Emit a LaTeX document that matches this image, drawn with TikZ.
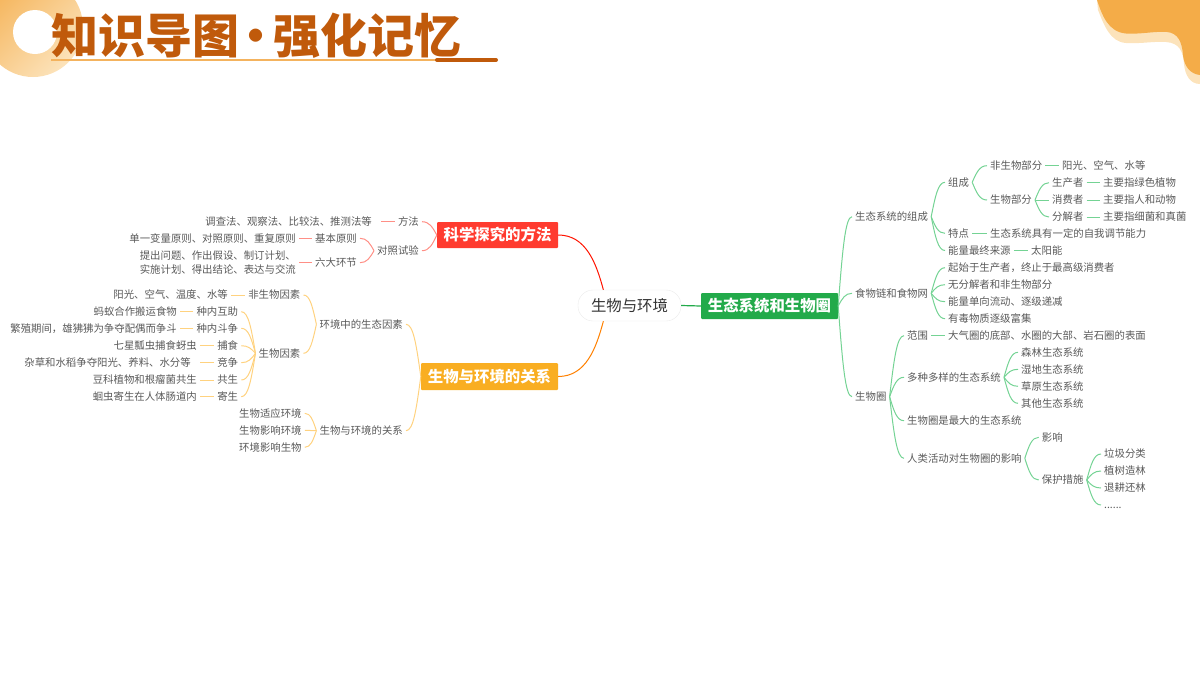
\documentclass[tikz,border=0pt]{standalone}
\usepackage{fontspec}
\setmainfont{Noto Sans CJK SC}
\usetikzlibrary{positioning,calc}

\definecolor{bodytxt}{HTML}{595959}
\definecolor{titlebrown}{HTML}{C05A0B}
\definecolor{titlepale}{HTML}{F4B35E}
\definecolor{blobdark}{HTML}{F4AC48}
\definecolor{blobpale}{HTML}{FCE3BB}
\definecolor{redbox}{HTML}{FF3B2F}
\definecolor{orangebox}{HTML}{F9AE22}
\definecolor{greenbox}{HTML}{22AA4A}
\definecolor{redline}{HTML}{FF8F86}
\definecolor{orangeline}{HTML}{FFD27F}
\definecolor{greenline}{HTML}{74D394}

\tikzset{
  txt/.style={font=\fontsize{10.4}{12}\selectfont, text=bodytxt, inner sep=3pt, text height=9pt, text depth=1.5pt},
  txtl/.style={txt, anchor=west},
  txtr/.style={txt, anchor=east},
  mainbox/.style={font=\fontsize{15.4}{18}\selectfont\bfseries, text=white, inner sep=0pt, minimum height=26pt, rounded corners=1pt},
  redlink/.style={draw=redline, line width=1pt},
  orangelink/.style={draw=orangeline, line width=1pt},
  greenlink/.style={draw=greenline, line width=1pt},
  fan/.style={to path={let \p1=(\tikztostart), \p2=(\tikztotarget) in
    .. controls ({\x1+.3*(\x2-\x1)},{\y1+.6*(\y2-\y1)}) and ({\x1+.5*(\x2-\x1)},\y2) .. (\tikztotarget)}},
}

\begin{document}
\begin{tikzpicture}[x=1pt, y=1pt]
  \clip (0,0) rectangle (1200,-675);

  % corners
  \shade[top color=blobdark!90!white, bottom color=blobpale, shading angle=45] (33,-27) circle (50);
  \fill[white] (35,-32) circle (22);
  \fill[blobpale] (1097,0) -- (1098,-10) .. controls (1104,-25) and (1110,-42) .. (1126,-43) .. controls (1140,-44) and (1155,-41) .. (1166,-42) .. controls (1180,-43) and (1183,-52) .. (1184,-64) .. controls (1185,-75) and (1190,-84) .. (1200,-84) -- (1200,0) -- cycle;
  \fill[blobdark] (1097,0) .. controls (1102,-15) and (1108,-32) .. (1126,-33.5) .. controls (1140,-34.5) and (1155,-31) .. (1167,-32) .. controls (1178,-33) and (1182,-42) .. (1183,-55) .. controls (1184,-66) and (1190,-74) .. (1200,-75) -- (1200,0) -- cycle;

  % title
  \node[font=\fontsize{47}{50}\selectfont\bfseries, text=titlebrown, anchor=west, inner sep=0pt] (title) at (51,-35.5) {知识导图\kern-6.5pt·\kern-6.5pt强化记忆};
  \coordinate (ulstart) at (51,-60);
  \coordinate (ulmid) at (437,-60);
  \coordinate (ulend) at (496,-60);
  \draw[titlepale, line width=2pt] (ulstart) -- (ulmid);
  \draw[titlebrown, line width=4pt, line cap=round] (ulmid) -- (ulend);

  % main topics
  \node[mainbox, fill=redbox, minimum width=121pt] (method) at (497.5,-235) {科学探究的方法};
  \node[mainbox, fill=orangebox, minimum width=137pt, minimum height=27pt] (relation) at (489.5,-376.5) {生物与环境的关系};
  \node[mainbox, fill=greenbox, minimum width=137pt] (eco) at (769.5,-306) {生态系统和生物圈};
  \node[rectangle, rounded corners=15pt, draw=black!8, fill=white, minimum width=103pt, minimum height=31pt, inner sep=0pt, font=\fontsize{15.4}{18}\selectfont, text=black!80] (root) at (629.5,-305.5) {生物与环境};

  \draw[red!85!orange, line width=1pt] (method.east) to[out=0, in=105] (root.149);
  \draw[orange, line width=1pt] (relation.east) to[out=0, in=-105] (root.211);
  \draw[greenbox, line width=1.2pt] (root.east) -- (eco.west);

  % method branch
  \node[txtr] (fangfa) at (422,-221.7) {方法};
  \node[txtr, inner xsep=9pt] (fangfav) at (381,-221.7) {调查法、观察法、比较法、推测法等};
  \node[txtr] (duizhao) at (422,-250.7) {对照试验};
  \node[txtr] (jiben) at (360,-238.3) {基本原则};
  \node[txtr] (jibenv) at (299,-238.3) {单一变量原则、对照原则、重复原则};
  \node[txtr] (liuda) at (360,-262.7) {六大环节};
  \node[font=\fontsize{10.4}{13.6}\selectfont, text=bodytxt, inner sep=3pt, anchor=east, align=left] (liudav) at (299,-262.3) {提出问题、作出假设、制订计划、\\实施计划、得出结论、表达与交流};

  \foreach \a/\b in {method/fangfa, method/duizhao, duizhao/jiben, duizhao/liuda}
    \draw[redlink] (\a.west) to[fan] (\b.east);
  \foreach \a/\b in {fangfa/fangfav, jiben/jibenv, liuda/liudav}
    \draw[redlink] (\a.west) -- (\a.west -| \b.east);

  % relation branch
  \node[txtr] (factor) at (406,-324.3) {环境中的生态因素};
  \node[txtr] (rel) at (406,-430.7) {生物与环境的关系};
  \node[txtr] (abio) at (303.5,-295) {非生物因素};
  \node[txtr] (abiov) at (231,-295) {阳光、空气、温度、水等};
  \node[txtr] (biof) at (303.5,-353.3) {生物因素};
  \node[txtr] (help) at (241.3,-311.7) {种内互助};
  \node[txtr] (helpv) at (180,-311.7) {蚂蚁合作搬运食物};
  \node[txtr] (fight) at (241.3,-328.3) {种内斗争};
  \node[txtr] (fightv) at (180,-328.3) {繁殖期间，雄狒狒为争夺配偶而争斗};
  \node[txtr] (prey) at (241.3,-345.7) {捕食};
  \node[txtr] (preyv) at (200,-345.7) {七星瓢虫捕食蚜虫};
  \node[txtr] (comp) at (241.3,-362.7) {竞争};
  \node[txtr, inner xsep=9pt] (compv) at (200,-362.7) {杂草和水稻争夺阳光、养料、水分等};
  \node[txtr] (mutual) at (241.3,-380) {共生};
  \node[txtr] (mutualv) at (200,-380) {豆科植物和根瘤菌共生};
  \node[txtr] (para) at (241.3,-396.7) {寄生};
  \node[txtr] (parav) at (200,-396.7) {蛔虫寄生在人体肠道内};
  \node[txtl] (adapt) at (236,-413.3) {生物适应环境};
  \node[txtl] (affect) at (236,-430.3) {生物影响环境};
  \node[txtl] (envaff) at (236,-447.3) {环境影响生物};

  \foreach \a/\b in {relation/factor, relation/rel, factor/abio, factor/biof, biof/help, biof/fight, biof/prey, biof/comp, biof/mutual, biof/para, rel/adapt, rel/envaff}
    \draw[orangelink] (\a.west) to[fan] (\b.east);
  \foreach \a/\b in {rel/affect, abio/abiov, help/helpv, fight/fightv, prey/preyv, comp/compv, mutual/mutualv, para/parav}
    \draw[orangelink] (\a.west) -- (\b.east);

  % ecosystem branch
  \node[txtl] (parts) at (852,-216.7) {生态系统的组成};
  \node[txtl] (zucheng) at (945,-182.3) {组成};
  \node[txtl] (nonbio) at (987,-165.7) {非生物部分};
  \node[txtl] (nonbiov) at (1059,-165.7) {阳光、空气、水等};
  \node[txtl] (biopart) at (987,-200) {生物部分};
  \node[txtl] (prod) at (1049,-182.7) {生产者};
  \node[txtl] (prodv) at (1100,-182.7) {主要指绿色植物};
  \node[txtl] (cons) at (1049,-200) {消费者};
  \node[txtl] (consv) at (1100,-200) {主要指人和动物};
  \node[txtl] (decomp) at (1049,-217) {分解者};
  \node[txtl] (decompv) at (1100,-217) {主要指细菌和真菌};
  \node[txtl] (trait) at (945,-233.3) {特点};
  \node[txtl] (traitv) at (987,-233.3) {生态系统具有一定的自我调节能力};
  \node[txtl] (energy) at (945,-250.5) {能量最终来源};
  \node[txtl] (energyv) at (1028,-250.5) {太阳能};
  \node[txtl] (chain) at (852,-293.3) {食物链和食物网};
  \node[txtl] (chaina) at (945,-267.7) {起始于生产者，终止于最高级消费者};
  \node[txtl] (chainb) at (945,-284.7) {无分解者和非生物部分};
  \node[txtl] (chainc) at (945,-301.7) {能量单向流动、逐级递减};
  \node[txtl] (chaind) at (945,-318.7) {有毒物质逐级富集};
  \node[txtl] (sphere) at (852,-396.7) {生物圈};
  \node[txtl] (range) at (904,-335.7) {范围};
  \node[txtl] (rangev) at (945,-335.7) {大气圈的底部、水圈的大部、岩石圈的表面};
  \node[txtl] (diverse) at (904,-377.3) {多种多样的生态系统};
  \node[txtl] (forest) at (1018,-352.3) {森林生态系统};
  \node[txtl] (wetland) at (1018,-369.3) {湿地生态系统};
  \node[txtl] (grass) at (1018,-386.3) {草原生态系统};
  \node[txtl] (other) at (1018,-403.3) {其他生态系统};
  \node[txtl] (largest) at (904,-420.7) {生物圈是最大的生态系统};
  \node[txtl] (human) at (904,-458.3) {人类活动对生物圈的影响};
  \node[txtl] (impact) at (1038.7,-437.3) {影响};
  \node[txtl] (protect) at (1038.7,-480) {保护措施};
  \node[txtl] (sort) at (1101,-454) {垃圾分类};
  \node[txtl] (plant) at (1101,-471) {植树造林};
  \node[txtl] (return) at (1101,-488) {退耕还林};
  \node[txtl] (etc) at (1101,-505) {......};

  \foreach \a/\b in {eco/parts, eco/chain, eco/sphere,
      parts/zucheng, parts/trait, parts/energy,
      zucheng/nonbio, zucheng/biopart,
      biopart/prod, biopart/decomp,
      chain/chaina, chain/chainb, chain/chainc, chain/chaind,
      sphere/range, sphere/diverse, sphere/largest, sphere/human,
      diverse/forest, diverse/wetland, diverse/grass, diverse/other,
      human/impact, human/protect,
      protect/sort, protect/plant, protect/return, protect/etc}
    \draw[greenlink] (\a.east) to[fan] (\b.west);
  \foreach \a/\b in {biopart/cons, nonbio/nonbiov, prod/prodv, cons/consv, decomp/decompv, trait/traitv, energy/energyv, range/rangev}
    \draw[greenlink] (\a.east) -- (\b.west);
\end{tikzpicture}
\end{document}
